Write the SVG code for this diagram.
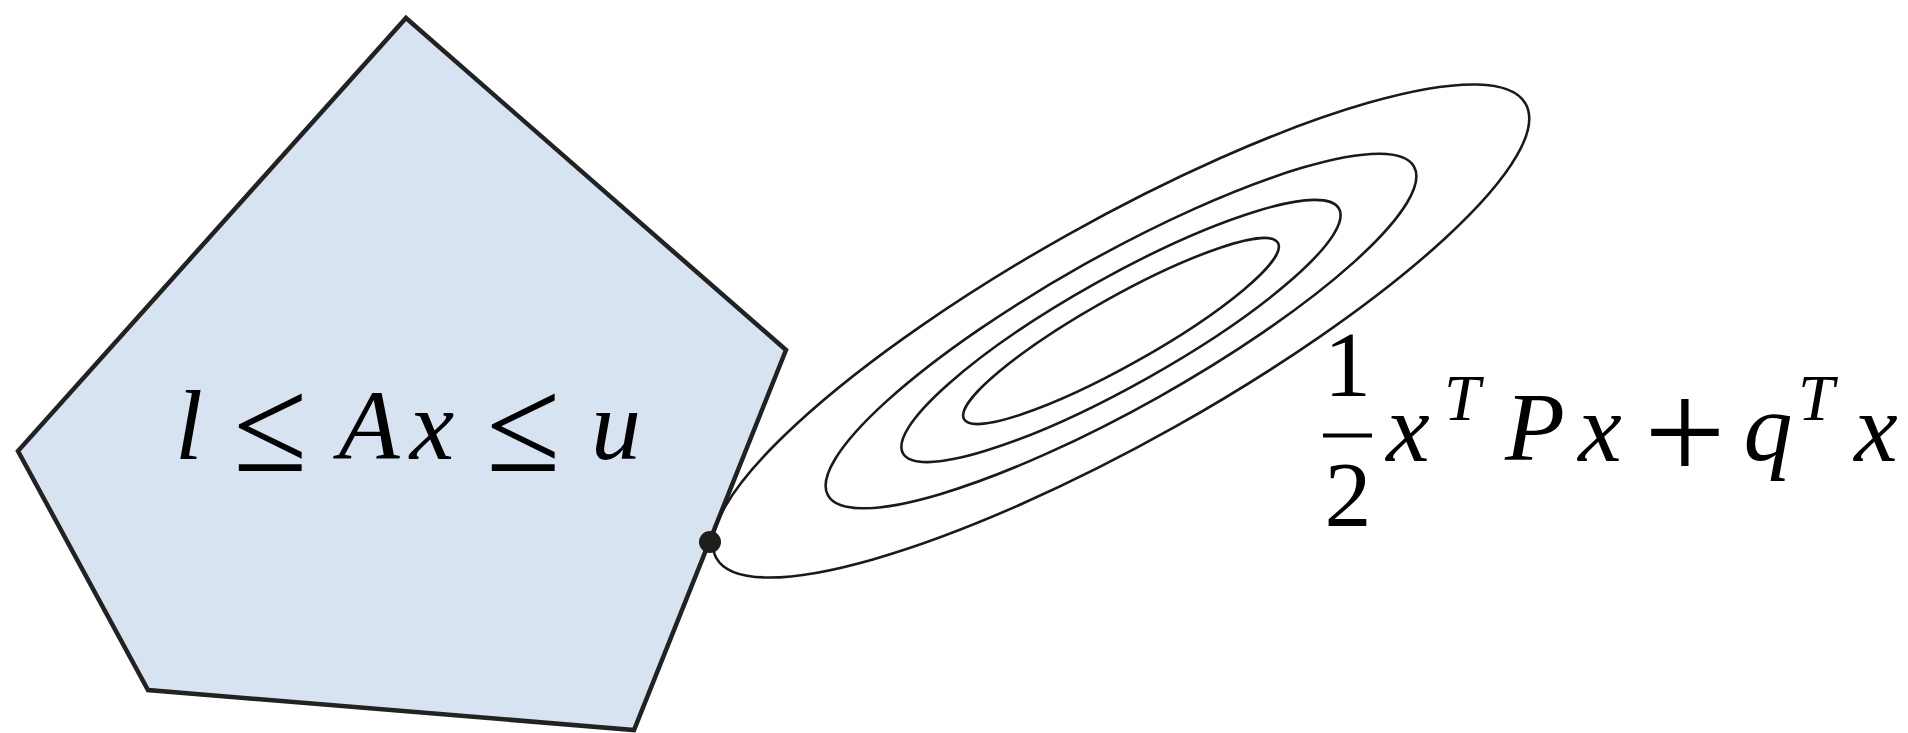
<svg xmlns="http://www.w3.org/2000/svg" width="1908" height="733" viewBox="0 0 1908 733">
<style>
.poly{fill:#d8e3f1;stroke:#222;stroke-width:4.5;stroke-linejoin:miter}
.lvl{fill:none;stroke:#1a1a1a;stroke-width:2.6}
</style>
<rect width="1908" height="733" fill="#fff"/>
<g id="feasible-set">
<polygon class="poly" points="406,18 786,350 634,730 148,690 18,451"/>
<text font-family="Liberation Serif" font-size="100" text-anchor="middle" fill="#000"><tspan font-style="italic" x="189" y="459">l</tspan><tspan font-style="normal" x="270" y="471" font-size="135">≤</tspan><tspan font-style="italic" x="369" y="459">A</tspan><tspan font-style="italic" x="432" y="459">x</tspan><tspan font-style="normal" x="523" y="471" font-size="135">≤</tspan><tspan font-style="italic" x="616" y="459">u</tspan></text>
</g>
<g id="objective">
<g transform="rotate(-29.3 1121 331)">
<ellipse class="lvl" cx="1121" cy="331" rx="180" ry="34"/>
<ellipse class="lvl" cx="1121" cy="331" rx="250" ry="54"/>
<ellipse class="lvl" cx="1121" cy="331" rx="336" ry="76"/>
<ellipse class="lvl" cx="1121" cy="331" rx="464" ry="110"/>
</g>
<g id="objective-label" font-family="Liberation Serif" font-size="98" text-anchor="middle" fill="#000">
<text x="1347.5" y="396" font-size="94">1</text>
<rect x="1323" y="433.5" width="49" height="4"/>
<text x="1348" y="526" font-size="94">2</text>
<text font-style="italic"><tspan x="1408" y="461">x</tspan><tspan x="1462" y="420" font-size="65">T</tspan><tspan x="1535" y="460">P</tspan><tspan x="1600" y="461">x</tspan><tspan font-style="normal" x="1685" y="480" font-size="145">+</tspan><tspan x="1768" y="460">q</tspan><tspan x="1816" y="420" font-size="65">T</tspan><tspan x="1876" y="461">x</tspan></text>
</g>
</g>
<g id="optimum">
<circle cx="710" cy="542" r="11" fill="#1e1e1e"/>
</g>
</svg>
